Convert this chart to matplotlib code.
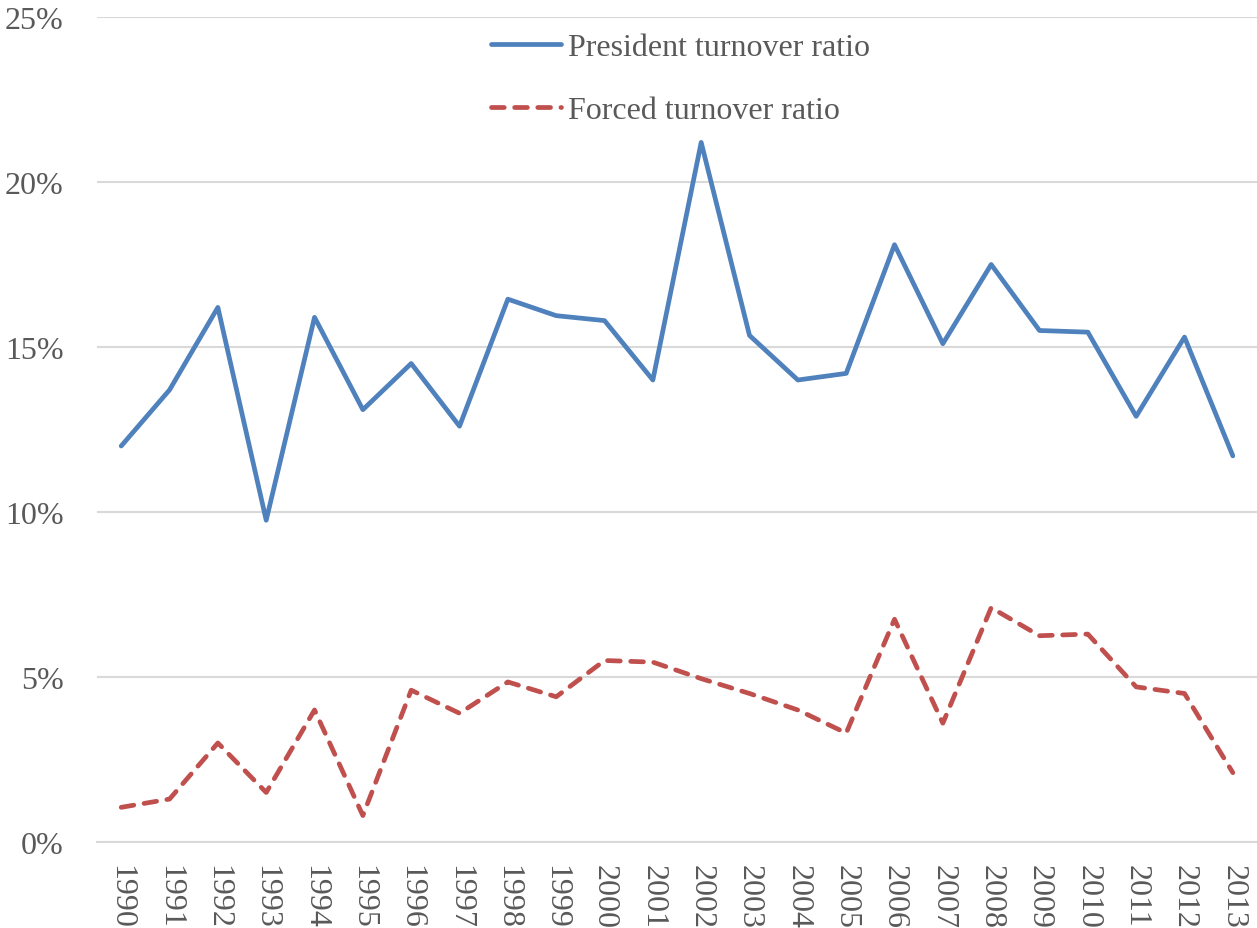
import matplotlib.pyplot as plt

# yearly turnover ratios, in percent
years = [str(y) for y in range(1990, 2014)]
president_ratio = [12.0, 13.7, 16.2, 9.75, 15.9, 13.1, 14.5, 12.6, 16.45, 15.95,
                   15.8, 14.0, 21.2, 15.35, 14.0, 14.2, 18.1, 15.1, 17.5, 15.5,
                   15.45, 12.9, 15.3, 11.7]
forced_ratio = [1.05, 1.3, 3.0, 1.5, 4.0, 0.8, 4.6, 3.9, 4.85, 4.4,
                5.5, 5.45, 4.95, 4.5, 4.0, 3.3, 6.75, 3.6, 7.1, 6.25,
                6.3, 4.7, 4.5, 2.1]
y_ticks = [0, 5, 10, 15, 20, 25]

plt.rcParams['font.family'] = ['Liberation Serif', 'DejaVu Serif']
text_color = '#595959'
grid_color = '#D9D9D9'

fig = plt.figure(figsize=(12.57, 9.29), dpi=100)
ax = fig.add_axes([0.0772, 0.0926, 0.9228, 0.8880])

x = range(len(years))
ax.plot(x, president_ratio, color='#4F81BD', lw=3.4, solid_capstyle='round',
        solid_joinstyle='round', label='President turnover ratio')
ax.plot(x, forced_ratio, color='#C0504D', lw=3.4, ls=(0, (2.7, 2.2)),
        dash_capstyle='round', label='Forced turnover ratio')

ax.set_xlim(-0.5, len(years) - 0.5)
ax.set_ylim(0, 25)
ax.set_yticks(y_ticks)
ax.set_yticklabels([f'{v}%' for v in y_ticks])
ax.set_xticks(list(x))
ax.set_xticklabels(years, rotation=-90)

ax.grid(axis='y', color=grid_color, lw=1.5)
ax.set_axisbelow(True)
for side in ['left', 'right', 'top']:
    ax.spines[side].set_visible(False)
ax.spines['bottom'].set_color(grid_color)
ax.spines['bottom'].set_linewidth(1.5)
ax.tick_params(axis='both', length=0, labelsize=23, colors=text_color)
ax.tick_params(axis='x', pad=16)
ax.tick_params(axis='y', pad=24)

leg = ax.legend(loc='upper center', bbox_to_anchor=(0.503, 1.0), frameon=False,
                fontsize=23, handlelength=2.2, labelspacing=1.05, handletextpad=0.22,
                borderaxespad=0.1)
for t in leg.get_texts():
    t.set_color(text_color)

fig.savefig('out.png', dpi=100)
